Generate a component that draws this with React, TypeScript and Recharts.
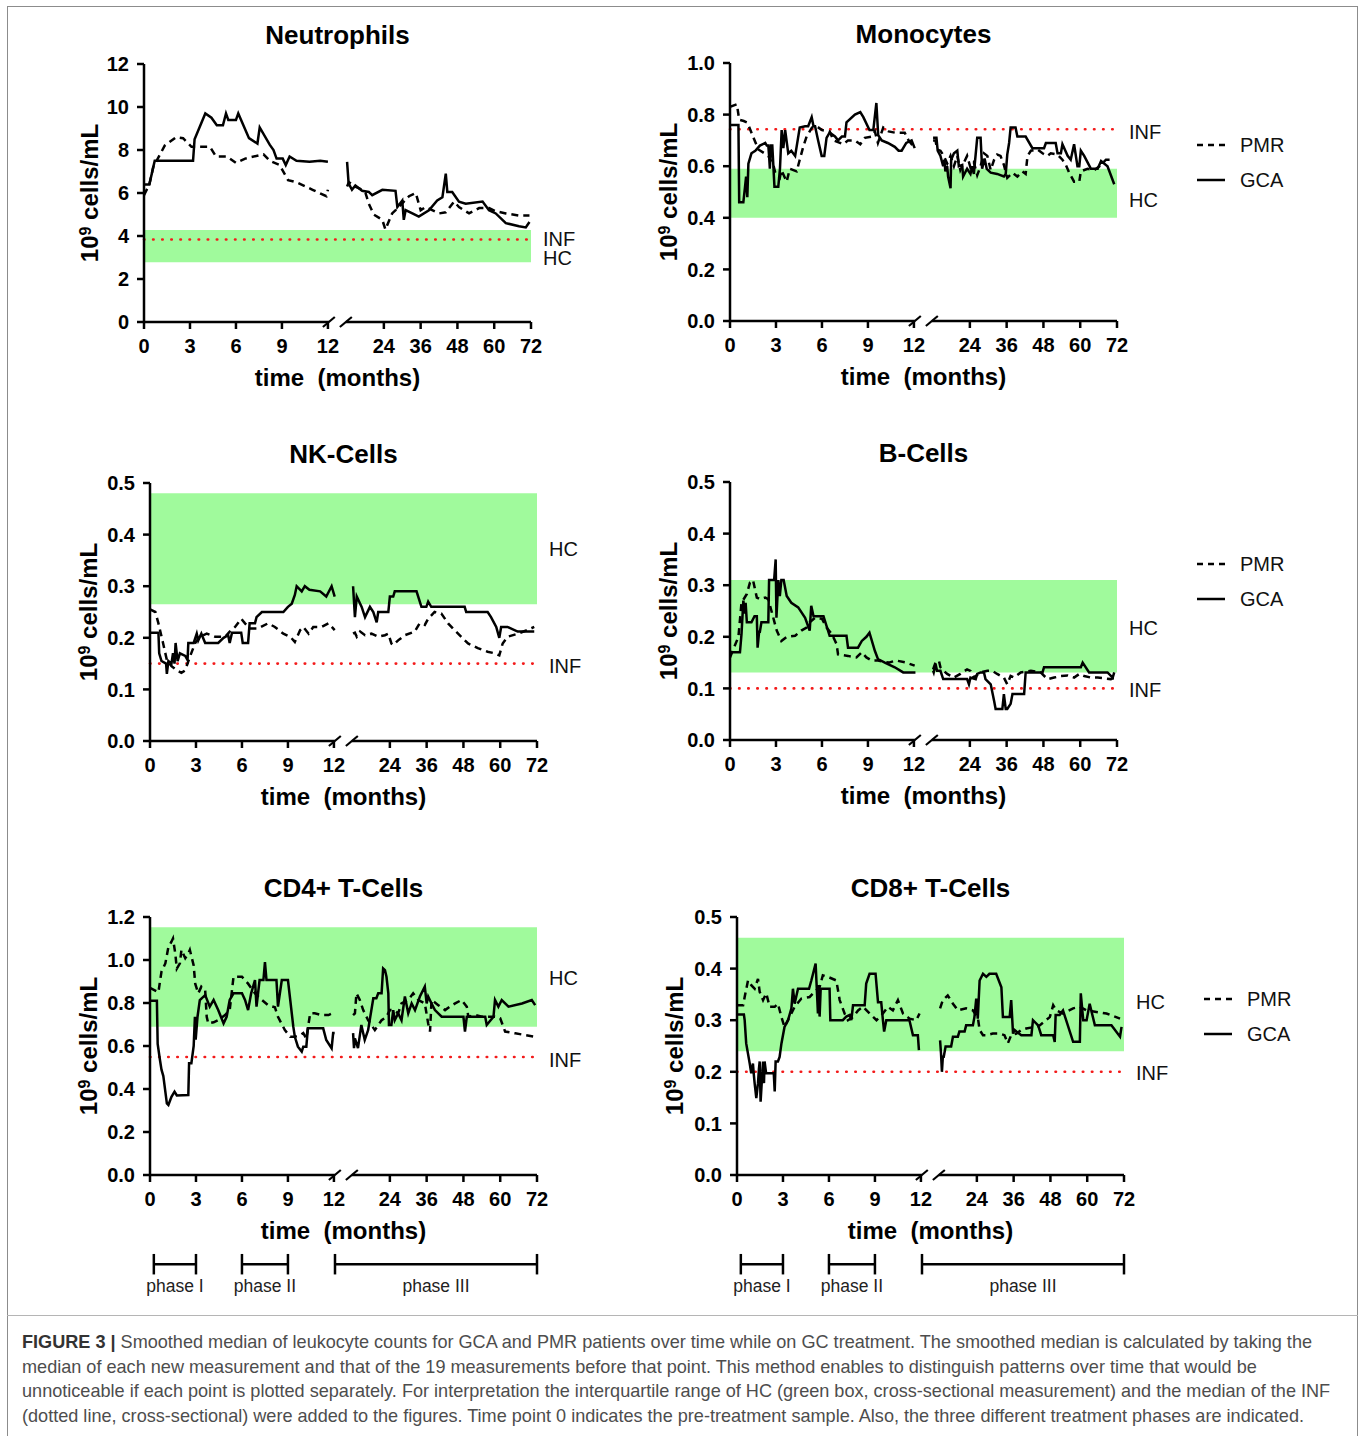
import React from 'react';
import { LineChart, Line, XAxis, YAxis, ReferenceArea, ReferenceLine } from 'recharts';

type Pt = [number, number];

// x axis is broken: 0-12 months linear, then 12-72 months compressed
const LATE0 = 13.25;
const LATE_PER_MONTH = 0.2;
const xPos = (t: number, late: boolean) => (late ? LATE0 + (t - 12) * LATE_PER_MONTH : t);
const X_MAX = xPos(72, true);
const xTickMonths = [0, 3, 6, 9, 12, 24, 36, 48, 60, 72];
const xTicks = xTickMonths.map((m, i) => xPos(m, i >= 5));
const xTickLabel = (u: number) => String(xTickMonths[xTicks.findIndex(t => Math.abs(t - u) < 1e-6)]);

// ---- Neutrophils
const neutroGcaEarly: Pt[] = [[0,6.4],[0.35,6.4],[0.7,7.5],[3.2,7.5],[3.3,8.5],[4.0,9.7],[4.4,9.5],[4.75,9.15],[5.15,9.15],[5.35,9.7],[5.5,9.4],[6.0,9.4],[6.15,9.7],[6.85,8.55],[7.4,8.3],[7.55,9.05],[8.2,8.25],[8.45,8.0],[8.65,7.6],[9.05,7.6],[9.25,7.3],[9.5,7.7],[9.95,7.5],[10.8,7.45],[11.5,7.5],[12.0,7.45]];
const neutroGcaLate: Pt[] = [[12,7.45],[12.5,6.45],[13.6,6.15],[14.7,6.35],[16.9,6.1],[19.1,6.05],[20.2,5.9],[23.5,6.15],[27.8,6.1],[28.4,5.35],[30.0,5.65],[30.5,4.75],[31.1,5.2],[33.3,5.05],[35.4,4.9],[38.7,5.2],[41.4,5.65],[43.1,5.8],[44.2,6.9],[44.7,6.05],[46.3,6.05],[48.5,5.6],[50.7,5.5],[56.2,5.6],[58.3,5.2],[60.5,5.05],[63.8,4.6],[68.1,4.45],[70.3,4.4],[71.5,4.65]];
const neutroPmrEarly: Pt[] = [[0,5.9],[0.35,6.4],[0.6,7.2],[1.35,8.2],[2.1,8.6],[2.55,8.55],[3.1,8.15],[4.3,8.15],[4.7,7.7],[5.4,7.7],[6.0,7.4],[6.6,7.6],[7.8,7.8],[8.2,7.5],[8.85,7.3],[9.4,6.6],[9.95,6.5],[11.0,6.15],[11.9,5.85],[12.0,6.15]];
const neutroPmrLate: Pt[] = [[12,6.3],[12.6,6.5],[14.7,6.3],[16.9,6.15],[18,6.0],[19.1,5.5],[20.7,5.0],[23.5,4.75],[24.5,4.3],[26.7,5.05],[28.9,5.35],[32.2,5.85],[34.4,6.0],[36,5.2],[37.6,5.35],[42,5.05],[44.2,5.1],[46.9,5.6],[48.5,5.35],[51.8,5.05],[55.1,5.3],[58.3,5.3],[60.5,5.15],[63.8,5.05],[68.1,4.95],[71.5,4.95]];

// ---- Monocytes
const monoGcaEarly: Pt[] = [[0,0.76],[0.55,0.76],[0.6,0.46],[0.87,0.46],[0.98,0.52],[1.05,0.56],[1.13,0.48],[1.2,0.61],[1.4,0.65],[1.65,0.66],[1.95,0.68],[2.3,0.69],[2.4,0.68],[2.5,0.68],[2.55,0.64],[2.6,0.59],[2.67,0.68],[2.76,0.68],[2.9,0.52],[3.15,0.52],[3.26,0.59],[3.37,0.74],[3.48,0.67],[3.6,0.74],[3.8,0.65],[4.0,0.66],[4.25,0.64],[4.55,0.75],[4.9,0.755],[5.1,0.755],[5.33,0.79],[5.45,0.755],[5.55,0.755],[5.75,0.70],[5.98,0.64],[6.15,0.64],[6.3,0.71],[6.5,0.73],[6.85,0.715],[7.05,0.70],[7.3,0.715],[7.5,0.715],[7.6,0.77],[8.15,0.80],[8.5,0.81],[8.7,0.79],[9.1,0.74],[9.35,0.74],[9.55,0.845],[9.67,0.72],[9.9,0.70],[10.3,0.69],[10.75,0.675],[11.0,0.66],[11.2,0.66],[11.5,0.69],[11.85,0.70],[12.05,0.67]];
const monoGcaLate: Pt[] = [[12,0.71],[13.1,0.71],[13.5,0.66],[14.4,0.64],[15.3,0.60],[15.7,0.625],[16.0,0.58],[16.6,0.60],[16.9,0.56],[17.7,0.515],[17.9,0.625],[18.8,0.65],[19.9,0.66],[20.4,0.60],[21.5,0.605],[21.8,0.56],[23.1,0.59],[24.2,0.57],[24.8,0.60],[25.3,0.57],[26.4,0.71],[27.5,0.71],[28.0,0.59],[28.8,0.63],[29.5,0.59],[30.8,0.575],[32.9,0.57],[35.1,0.56],[35.7,0.57],[36.2,0.645],[36.8,0.69],[37.3,0.75],[38.9,0.75],[39.5,0.715],[42.2,0.715],[44.4,0.67],[48.2,0.67],[48.8,0.69],[52.0,0.69],[52.6,0.65],[53.7,0.65],[54.2,0.685],[55.9,0.64],[56.9,0.625],[58.0,0.685],[59.1,0.60],[59.7,0.60],[60.2,0.66],[61.3,0.64],[62.4,0.615],[63.5,0.59],[65.7,0.59],[66.8,0.62],[68.9,0.60],[71.1,0.53]];
const monoPmrEarly: Pt[] = [[0,0.83],[0.45,0.84],[0.6,0.78],[0.9,0.775],[1.1,0.77],[1.2,0.76],[1.5,0.715],[1.85,0.665],[2.5,0.64],[2.85,0.60],[2.95,0.575],[3.25,0.555],[3.35,0.585],[3.7,0.54],[3.9,0.59],[4.35,0.58],[4.55,0.625],[4.8,0.68],[5.0,0.715],[5.35,0.75],[5.65,0.755],[6.0,0.74],[6.5,0.735],[6.75,0.70],[7.4,0.685],[7.7,0.70],[8.15,0.70],[8.5,0.685],[8.8,0.71],[9.25,0.715],[9.45,0.735],[9.65,0.69],[10.0,0.75],[10.35,0.735],[10.75,0.73],[11.4,0.73],[11.65,0.70],[11.85,0.685],[12.05,0.69]];
const monoPmrLate: Pt[] = [[12,0.70],[12.8,0.70],[13.3,0.665],[14.4,0.66],[15.5,0.64],[16.6,0.61],[17.7,0.64],[18.8,0.60],[19.9,0.64],[20.9,0.585],[23.1,0.64],[24.2,0.595],[25.3,0.615],[26.4,0.565],[27.5,0.60],[28.6,0.65],[29.7,0.64],[30.8,0.585],[31.9,0.625],[32.9,0.645],[34.0,0.64],[35.1,0.605],[36.2,0.555],[37.9,0.575],[39.5,0.56],[41.1,0.58],[42.2,0.57],[42.8,0.64],[43.9,0.66],[46.0,0.665],[47.7,0.65],[49.3,0.64],[50.4,0.65],[52.6,0.645],[54.2,0.625],[55.3,0.605],[56.4,0.575],[58.0,0.54],[59.7,0.54],[60.2,0.58],[62.4,0.59],[64.6,0.585],[66.8,0.605],[68.4,0.625],[71.1,0.625]];

// ---- NK cells
const nkGcaEarly: Pt[] = [[0,0.21],[0.55,0.21],[0.6,0.17],[0.75,0.155],[1.05,0.15],[1.1,0.13],[1.2,0.155],[1.4,0.15],[1.5,0.17],[1.6,0.15],[1.67,0.19],[1.8,0.155],[1.95,0.17],[2.3,0.165],[2.45,0.157],[2.5,0.19],[2.85,0.19],[3.05,0.208],[3.15,0.195],[3.35,0.208],[3.6,0.19],[4.45,0.19],[4.8,0.20],[5.1,0.205],[5.2,0.19],[5.35,0.21],[5.95,0.21],[6.05,0.19],[6.4,0.19],[6.5,0.228],[6.85,0.228],[6.95,0.24],[7.3,0.25],[8.7,0.25],[9.0,0.26],[9.25,0.266],[9.45,0.283],[9.57,0.30],[9.9,0.29],[10.1,0.30],[10.4,0.293],[11.1,0.29],[11.5,0.28],[11.85,0.30],[12.05,0.28]];
const nkGcaLate: Pt[] = [[12,0.30],[12.2,0.28],[12.6,0.24],[13.2,0.28],[14.8,0.26],[15.9,0.24],[17.5,0.26],[18.6,0.25],[19.7,0.23],[20.2,0.25],[23.5,0.25],[24,0.28],[25.1,0.28],[25.6,0.29],[26.7,0.29],[32.7,0.29],[34.3,0.26],[35.9,0.26],[36.5,0.27],[37.5,0.26],[48.4,0.26],[48.9,0.25],[55.9,0.25],[57.0,0.24],[58.7,0.221],[59.7,0.20],[60.3,0.221],[62.4,0.221],[65.7,0.212],[71.1,0.212]];
const nkPmrEarly: Pt[] = [[0,0.255],[0.35,0.25],[0.55,0.228],[0.85,0.19],[1.1,0.157],[1.4,0.145],[1.75,0.137],[2.05,0.132],[2.3,0.137],[2.6,0.163],[2.95,0.19],[3.25,0.202],[3.7,0.208],[4.25,0.202],[4.9,0.202],[5.2,0.212],[5.55,0.221],[5.95,0.237],[6.2,0.228],[6.5,0.218],[7.05,0.218],[7.7,0.228],[8.15,0.221],[8.7,0.208],[9.15,0.202],[9.45,0.192],[9.8,0.215],[10.0,0.221],[10.35,0.208],[10.65,0.221],[11.2,0.221],[11.65,0.228],[12.05,0.215]];
const nkPmrLate: Pt[] = [[12,0.208],[12.6,0.21],[13.2,0.202],[14.3,0.212],[15.9,0.205],[18.0,0.208],[20.2,0.202],[22.4,0.205],[23.5,0.208],[24.5,0.189],[25.1,0.186],[26.7,0.195],[28.9,0.205],[32.1,0.212],[33.7,0.228],[35.4,0.225],[36.5,0.237],[38.6,0.25],[40.8,0.247],[43.0,0.228],[45.1,0.215],[47.3,0.202],[49.5,0.189],[52.7,0.18],[55.9,0.173],[58.1,0.17],[59.7,0.166],[60.8,0.189],[62.4,0.202],[65.7,0.208],[68.9,0.215],[71.1,0.221]];

// ---- B cells
const bGcaEarly: Pt[] = [[0,0.17],[0.65,0.17],[0.75,0.205],[0.87,0.27],[0.98,0.245],[1.02,0.266],[1.1,0.228],[1.4,0.228],[1.6,0.24],[1.75,0.24],[1.8,0.179],[1.9,0.21],[1.95,0.21],[2.05,0.228],[2.5,0.228],[2.55,0.31],[2.88,0.31],[2.98,0.35],[3.03,0.237],[3.15,0.31],[3.25,0.279],[3.35,0.31],[3.5,0.31],[3.7,0.279],[4.0,0.266],[4.45,0.257],[4.9,0.237],[5.2,0.212],[5.3,0.26],[5.45,0.24],[6.1,0.24],[6.5,0.202],[7.6,0.202],[7.7,0.179],[8.35,0.179],[8.6,0.192],[8.9,0.20],[9.1,0.208],[9.45,0.173],[9.65,0.157],[10.1,0.15],[10.75,0.141],[11.3,0.131],[12.1,0.131]];
const bGcaLate: Pt[] = [[12,0.134],[12.2,0.131],[12.8,0.147],[13.3,0.134],[14.4,0.134],[15.3,0.118],[16.6,0.118],[18.8,0.118],[23.1,0.118],[23.7,0.108],[24.2,0.121],[25.9,0.118],[26.4,0.128],[27.5,0.131],[28.6,0.131],[29.1,0.118],[30.8,0.108],[31.9,0.076],[32.4,0.06],[34.6,0.06],[35.1,0.089],[35.7,0.06],[36.2,0.06],[37.3,0.07],[37.9,0.089],[41.7,0.089],[42.2,0.131],[47.7,0.131],[48.2,0.141],[60.2,0.141],[60.8,0.15],[62.9,0.131],[68.9,0.131],[70.6,0.121],[71.1,0.131]];
const bPmrEarly: Pt[] = [[0,0.16],[0.55,0.20],[0.75,0.266],[1.1,0.283],[1.3,0.305],[1.5,0.31],[1.75,0.276],[1.95,0.273],[2.3,0.276],[2.5,0.273],[2.85,0.234],[3.05,0.212],[3.35,0.192],[3.7,0.20],[4.25,0.202],[4.65,0.212],[5.0,0.218],[5.2,0.228],[5.55,0.237],[6.0,0.235],[6.3,0.218],[6.65,0.205],[6.95,0.186],[7.05,0.166],[7.7,0.163],[8.25,0.16],[8.6,0.17],[8.9,0.16],[9.25,0.154],[9.65,0.154],[10.35,0.15],[10.85,0.154],[11.5,0.15],[12.05,0.144]];
const bPmrLate: Pt[] = [[12,0.137],[12.8,0.15],[13.9,0.154],[14.4,0.141],[15.5,0.134],[16.6,0.128],[18.8,0.121],[20.9,0.128],[23.1,0.137],[24.2,0.134],[25.3,0.121],[27.5,0.131],[29.7,0.134],[31.3,0.134],[32.9,0.128],[35.1,0.121],[36.2,0.108],[37.3,0.124],[38.4,0.121],[40.6,0.131],[43.9,0.134],[47.1,0.131],[49.3,0.118],[51.5,0.121],[53.7,0.124],[55.9,0.125],[58.0,0.121],[59.7,0.128],[61.3,0.124],[63.5,0.121],[65.7,0.121],[70.0,0.118],[71.1,0.121]];

// ---- CD4+ T cells
const cd4GcaEarly: Pt[] = [[0,0.81],[0.45,0.81],[0.5,0.61],[0.65,0.535],[0.75,0.49],[0.87,0.46],[1.1,0.333],[1.2,0.326],[1.4,0.364],[1.6,0.388],[1.75,0.37],[2.5,0.372],[2.55,0.52],[2.7,0.52],[2.85,0.60],[2.93,0.736],[2.98,0.63],[3.1,0.736],[3.25,0.814],[3.6,0.837],[3.9,0.783],[4.15,0.814],[4.45,0.767],[4.8,0.705],[5.0,0.736],[5.2,0.814],[5.45,0.845],[6.0,0.845],[6.2,0.814],[6.4,0.767],[6.6,0.845],[6.85,0.907],[6.95,0.783],[7.15,0.907],[7.4,0.907],[7.5,0.99],[7.6,0.907],[8.25,0.907],[8.35,0.783],[8.6,0.907],[9.0,0.907],[9.15,0.814],[9.35,0.69],[9.45,0.643],[9.65,0.597],[9.9,0.574],[10.0,0.597],[10.2,0.597],[10.3,0.682],[11.3,0.682],[11.5,0.628],[11.85,0.589],[11.95,0.66],[12.05,0.66]];
const cd4GcaLate: Pt[] = [[12,0.66],[12.3,0.59],[12.6,0.636],[13.6,0.59],[14.7,0.698],[15.8,0.628],[16.9,0.674],[18.6,0.822],[19.6,0.822],[20.2,0.845],[21.3,0.845],[21.8,0.961],[22.4,0.953],[22.9,0.922],[23.5,0.845],[23.7,0.698],[24.5,0.698],[25.1,0.767],[25.6,0.72],[26.7,0.752],[27.8,0.72],[28.9,0.83],[30.0,0.752],[31.1,0.798],[32.2,0.767],[33.8,0.83],[35.4,0.876],[36.0,0.798],[36.5,0.83],[37.6,0.798],[38.7,0.767],[40.9,0.736],[45.3,0.736],[48.0,0.736],[48.5,0.667],[49.1,0.736],[55.1,0.736],[55.6,0.698],[57.8,0.736],[58.3,0.814],[59.4,0.783],[60.5,0.814],[62.7,0.783],[67.1,0.798],[70.3,0.814],[71.4,0.79]];
const cd4PmrEarly: Pt[] = [[0,0.87],[0.55,0.85],[0.65,0.90],[0.75,0.946],[1.0,0.984],[1.2,1.06],[1.4,1.085],[1.5,1.10],[1.65,1.03],[1.75,0.96],[1.95,0.984],[2.05,1.047],[2.3,1.008],[2.5,1.03],[2.6,1.047],[2.85,0.975],[2.95,0.89],[3.15,0.845],[3.35,0.876],[3.6,0.86],[3.7,0.736],[3.8,0.705],[4.15,0.71],[4.45,0.721],[4.9,0.744],[5.2,0.767],[5.45,0.922],[6.0,0.922],[6.4,0.89],[6.85,0.845],[7.3,0.814],[7.7,0.79],[8.15,0.78],[8.35,0.736],[8.8,0.674],[9.15,0.643],[9.45,0.643],[9.8,0.651],[10.0,0.66],[10.2,0.635],[10.45,0.752],[10.75,0.752],[11.2,0.744],[11.65,0.744],[11.9,0.752]];
const cd4PmrLate: Pt[] = [[12,0.744],[12.6,0.752],[13.1,0.845],[14.2,0.814],[15.3,0.767],[16.9,0.72],[19.1,0.674],[21.3,0.72],[22.9,0.736],[24.0,0.767],[25.1,0.767],[26.7,0.752],[27.8,0.798],[30.0,0.814],[31.6,0.845],[33.3,0.814],[35.4,0.798],[36.5,0.705],[37.1,0.667],[37.6,0.814],[39.8,0.79],[42.0,0.767],[43.6,0.783],[45.3,0.798],[47.4,0.814],[49.1,0.783],[49.6,0.736],[51.8,0.744],[54.0,0.736],[56.2,0.736],[58.3,0.736],[60.0,0.729],[61.6,0.667],[64.9,0.659],[68.1,0.651],[71.4,0.643]];

// ---- CD8+ T cells
const cd8GcaEarly: Pt[] = [[0,0.311],[0.45,0.311],[0.5,0.30],[0.6,0.255],[0.83,0.216],[0.93,0.197],[1.04,0.216],[1.09,0.197],[1.15,0.178],[1.26,0.149],[1.37,0.178],[1.43,0.205],[1.48,0.22],[1.54,0.142],[1.65,0.197],[1.7,0.22],[1.76,0.178],[1.8,0.22],[1.9,0.197],[2.4,0.197],[2.46,0.162],[2.52,0.22],[2.67,0.22],[2.78,0.229],[2.9,0.255],[3.1,0.287],[3.33,0.30],[3.55,0.323],[3.65,0.361],[3.76,0.332],[3.98,0.361],[4.7,0.361],[4.85,0.377],[5.13,0.41],[5.22,0.352],[5.28,0.313],[5.33,0.368],[5.39,0.307],[5.46,0.361],[6.04,0.361],[6.09,0.30],[6.9,0.30],[7.13,0.307],[7.35,0.31],[7.46,0.30],[7.57,0.329],[8.33,0.329],[8.43,0.371],[8.65,0.39],[9.04,0.39],[9.2,0.335],[9.41,0.335],[9.52,0.30],[9.6,0.278],[9.74,0.30],[11.25,0.30],[11.48,0.271],[11.8,0.271],[11.87,0.242]];
const cd8GcaLate: Pt[] = [[12,0.261],[12.3,0.236],[12.6,0.20],[12.9,0.229],[13.2,0.229],[13.8,0.249],[15.6,0.249],[16.2,0.268],[17.8,0.268],[18.3,0.278],[20.0,0.278],[20.5,0.29],[22.7,0.29],[23.2,0.306],[23.8,0.342],[24.3,0.303],[24.9,0.377],[26.0,0.39],[27.1,0.384],[28.1,0.39],[30.3,0.39],[32.0,0.364],[32.5,0.306],[34.7,0.306],[35.2,0.339],[35.8,0.274],[36.3,0.281],[36.9,0.278],[38.5,0.271],[41.8,0.271],[42.3,0.30],[44.0,0.29],[45.0,0.271],[48.9,0.271],[49.4,0.258],[49.7,0.31],[51.0,0.31],[52.1,0.319],[55.4,0.258],[57.6,0.258],[57.9,0.352],[58.7,0.30],[59.8,0.30],[60.8,0.332],[62.5,0.29],[67.9,0.29],[70.7,0.268],[71.2,0.287]];
const cd8PmrEarly: Pt[] = [[0,0.329],[0.4,0.329],[0.5,0.345],[0.72,0.377],[0.93,0.368],[1.15,0.361],[1.37,0.38],[1.48,0.355],[1.7,0.339],[1.91,0.352],[2.13,0.326],[2.46,0.326],[2.67,0.332],[2.9,0.306],[3.1,0.287],[3.43,0.306],[3.76,0.326],[4.2,0.342],[4.74,0.345],[5.07,0.355],[5.39,0.364],[5.6,0.387],[5.93,0.384],[6.48,0.377],[6.7,0.339],[7.02,0.313],[7.24,0.30],[7.57,0.306],[7.9,0.319],[8.22,0.326],[8.65,0.313],[9.1,0.30],[9.3,0.306],[9.52,0.313],[9.85,0.326],[10.17,0.319],[10.5,0.339],[10.83,0.313],[11.26,0.303],[11.7,0.30],[11.91,0.313]];
const cd8PmrLate: Pt[] = [[12,0.323],[12.9,0.339],[14.5,0.348],[16.2,0.332],[17.8,0.319],[20.5,0.323],[22.7,0.319],[24.3,0.306],[24.9,0.281],[26.0,0.271],[27.1,0.271],[29.2,0.274],[31.4,0.274],[33.0,0.271],[34.1,0.255],[35.2,0.271],[36.9,0.274],[38.5,0.281],[40.1,0.284],[42.9,0.287],[44.5,0.29],[47.8,0.306],[48.9,0.329],[49.9,0.319],[52.1,0.313],[55.4,0.323],[57.6,0.326],[59.8,0.319],[63.0,0.316],[66.3,0.313],[70.7,0.303]];

// treatment phases in months (start on the early scale, end possibly on the late scale)
const phaseNames = ['phase I', 'phase II', 'phase III'];
const phaseStart = [0.25, 6, 12.07];
const phaseEnd = [3, 9, 72];

const PW = 387;
const PH = 258;
const YW = 60;
const MT = 12;
const XH = 46;
const MR = 70;
const INK = '#000';
const BAR_Y = 0.7;

const toRows = (pts: Pt[], late: boolean) => pts.map(([t, v]) => ({ u: xPos(t, late), v }));
const phaseRows = phaseNames.map((_, i) => [
  { u: xPos(phaseStart[i], false), v: BAR_Y },
  { u: xPos(phaseEnd[i], phaseEnd[i] > 12), v: BAR_Y },
]);

interface PanelProps {
  title: string;
  left: number;
  top: number;
  yMax: number;
  yStep: number;
  decimals: number;
  hc: [number, number];
  inf: number;
  hcDy: number;
  infDy: number;
  yLabelDx: number;
  gca: [Pt[], Pt[]];
  pmr: [Pt[], Pt[]];
  legend?: boolean;
  phases?: boolean;
}

const Panel: React.FC<PanelProps> = (p) => {
  const yTicks: number[] = [];
  for (let i = 0; i <= Math.round(p.yMax / p.yStep); i++) yTicks.push(+(i * p.yStep).toFixed(3));
  const slashH = (5 / PH) * p.yMax;
  const slashW = 0.39;
  const brk1 = 12.06;
  const brk2 = 13.17;
  const lineProps = { dataKey: 'v', stroke: INK, strokeWidth: 2.5, dot: false, isAnimationActive: false, type: 'linear' as const, activeDot: false as const };

  return (
    <>
      <div style={{ position: 'absolute', left: p.left, top: p.top - 29 - 16, width: PW, height: 32, lineHeight: '32px', textAlign: 'center', fontSize: 26, fontWeight: 700 }}>
        {p.title}
      </div>
      <div style={{ position: 'absolute', left: p.left + p.yLabelDx, top: p.top + PH / 2, transform: 'translate(-50%, -50%) rotate(-90deg)', whiteSpace: 'nowrap', fontSize: 24, fontWeight: 700, lineHeight: '28px' }}>
        10<sup style={{ fontSize: 16, verticalAlign: 'top', position: 'relative', top: -4 }}>9</sup> cells/mL
      </div>
      <div style={{ position: 'absolute', left: p.left - YW, top: p.top - MT }}>
        <LineChart width={YW + PW + MR} height={MT + PH + XH} margin={{ top: MT, right: MR, left: 0, bottom: 0 }}>
          <XAxis
            type="number"
            dataKey="u"
            domain={[0, X_MAX]}
            ticks={xTicks}
            interval={0}
            tickFormatter={xTickLabel}
            axisLine={false}
            tickLine={{ stroke: INK, strokeWidth: 2.5 }}
            tickSize={7}
            tickMargin={10}
            tick={{ fill: INK, fontSize: 20, fontWeight: 700 }}
            height={XH}
            allowDataOverflow
          />
          <YAxis
            type="number"
            domain={[0, p.yMax]}
            ticks={yTicks}
            interval={0}
            tickFormatter={(v: number) => v.toFixed(p.decimals)}
            axisLine={{ stroke: INK, strokeWidth: 2.5 }}
            tickLine={{ stroke: INK, strokeWidth: 2.5 }}
            tickSize={7}
            tickMargin={8}
            tick={{ fill: INK, fontSize: 20, fontWeight: 700 }}
            width={YW}
            allowDataOverflow
          />
          <ReferenceArea
            x1={0}
            x2={X_MAX}
            y1={p.hc[0]}
            y2={p.hc[1]}
            fill="#a0fa9c"
            fillOpacity={1}
            stroke="none"
            label={{ value: 'HC', position: 'right', offset: 12, fill: '#111', fontSize: 20, dy: p.hcDy }}
          />
          <ReferenceLine
            y={p.inf}
            stroke="#f31a1a"
            strokeWidth={2.6}
            strokeDasharray="0.5 8.6"
            strokeLinecap="round"
            label={{ value: 'INF', position: 'right', offset: 12, fill: '#111', fontSize: 20, dy: p.infDy }}
          />
          <ReferenceLine segment={[{ x: 0, y: 0 }, { x: brk1, y: 0 }]} stroke={INK} strokeWidth={2.5} ifOverflow="visible" />
          <ReferenceLine segment={[{ x: brk2, y: 0 }, { x: X_MAX, y: 0 }]} stroke={INK} strokeWidth={2.5} ifOverflow="visible" />
          <ReferenceLine segment={[{ x: brk1 - slashW, y: -slashH }, { x: brk1 + slashW, y: slashH }]} stroke={INK} strokeWidth={2.2} ifOverflow="visible" />
          <ReferenceLine segment={[{ x: brk2 - slashW, y: -slashH }, { x: brk2 + slashW, y: slashH }]} stroke={INK} strokeWidth={2.2} ifOverflow="visible" />
          <Line data={toRows(p.pmr[0], false)} {...lineProps} strokeDasharray="7 5" />
          <Line data={toRows(p.pmr[1], true)} {...lineProps} strokeDasharray="7 5" />
          <Line data={toRows(p.gca[0], false)} {...lineProps} />
          <Line data={toRows(p.gca[1], true)} {...lineProps} />
        </LineChart>
      </div>
      <div style={{ position: 'absolute', left: p.left, top: p.top + PH + 56 - 16, width: PW, height: 32, lineHeight: '32px', textAlign: 'center', fontSize: 24, fontWeight: 700, whiteSpace: 'pre' }}>
        {'time  (months)'}
      </div>
      {p.legend && (
        <svg style={{ position: 'absolute', left: p.left + PW + 80, top: p.top + 70 }} width={120} height={60}>
          <line x1={0} y1={12} x2={28} y2={12} stroke={INK} strokeWidth={2.5} strokeDasharray="6 5" />
          <text x={43} y={12} dominantBaseline="central" fontSize={20} fill="#111">PMR</text>
          <line x1={0} y1={47} x2={28} y2={47} stroke={INK} strokeWidth={2.5} />
          <text x={43} y={47} dominantBaseline="central" fontSize={20} fill="#111">GCA</text>
        </svg>
      )}
      {p.phases && (
        <div style={{ position: 'absolute', left: p.left - YW, top: p.top + PH + 70 }}>
          <LineChart width={YW + PW + MR} height={64} margin={{ top: 0, right: MR, left: YW, bottom: 0 }}>
            <XAxis type="number" dataKey="u" domain={[0, X_MAX]} hide allowDataOverflow />
            <YAxis type="number" domain={[0, 1]} hide allowDataOverflow />
            {phaseRows.map((rows, i) => (
              <Line key={phaseNames[i]} data={rows} dataKey="v" stroke={INK} strokeWidth={2.5} dot={false} activeDot={false} isAnimationActive={false} />
            ))}
            {phaseRows.map((rows, i) => (
              <ReferenceLine key={'a' + i} segment={[{ x: rows[0].u, y: BAR_Y - 0.16 }, { x: rows[0].u, y: BAR_Y + 0.16 }]} stroke={INK} strokeWidth={2.5} ifOverflow="visible" />
            ))}
            {phaseRows.map((rows, i) => (
              <ReferenceLine key={'b' + i} segment={[{ x: rows[1].u, y: BAR_Y - 0.16 }, { x: rows[1].u, y: BAR_Y + 0.16 }]} stroke={INK} strokeWidth={2.5} ifOverflow="visible" />
            ))}
            {phaseRows.map((rows, i) => (
              <ReferenceLine key={'t' + i} segment={[{ x: rows[0].u, y: BAR_Y }, { x: rows[1].u, y: BAR_Y }]} stroke="none" ifOverflow="visible"
                label={{ value: phaseNames[i], position: 'bottom', offset: 15, fill: '#222', fontSize: 17.5 }} />
            ))}
          </LineChart>
        </div>
      )}
    </>
  );
};

const captionLines = [
  'Smoothed median of leukocyte counts for GCA and PMR patients over time while on GC treatment. The smoothed median is calculated by taking the',
  'median of each new measurement and that of the 19 measurements before that point. This method enables to distinguish patterns over time that would be',
  'unnoticeable if each point is plotted separately. For interpretation the interquartile range of HC (green box, cross-sectional measurement) and the median of the INF',
  '(dotted line, cross-sectional) were added to the figures. Time point 0 indicates the pre-treatment sample. Also, the three different treatment phases are indicated.',
];

export default function App() {
  return (
    <div style={{ position: 'absolute', left: 0, top: 0, width: 1360, height: 1436, background: '#fff', overflow: 'hidden', fontFamily: "'Liberation Sans', Arial, sans-serif", color: INK }}>
      <div style={{ position: 'absolute', left: 7, top: 6, width: 1351, height: 1460, border: '1px solid #8c8c8c', boxSizing: 'border-box' }} />
      <div style={{ position: 'absolute', left: 7, top: 1315, width: 1351, height: 1, background: '#b5b5b5' }} />

      <Panel title="Neutrophils" left={144} top={64} yMax={12} yStep={2} decimals={0} hc={[2.78, 4.28]} inf={3.84} hcDy={12} infDy={-1} yLabelDx={-54}
        gca={[neutroGcaEarly, neutroGcaLate]} pmr={[neutroPmrEarly, neutroPmrLate]} />
      <Panel title="Monocytes" left={730} top={63} yMax={1.0} yStep={0.2} decimals={1} hc={[0.40, 0.59]} inf={0.743} hcDy={7} infDy={3} yLabelDx={-61}
        gca={[monoGcaEarly, monoGcaLate]} pmr={[monoPmrEarly, monoPmrLate]} legend />
      <Panel title="NK-Cells" left={150} top={483} yMax={0.5} yStep={0.1} decimals={1} hc={[0.265, 0.48]} inf={0.15} hcDy={0} infDy={2} yLabelDx={-61}
        gca={[nkGcaEarly, nkGcaLate]} pmr={[nkPmrEarly, nkPmrLate]} />
      <Panel title="B-Cells" left={730} top={482} yMax={0.5} yStep={0.1} decimals={1} hc={[0.131, 0.31]} inf={0.10} hcDy={2} infDy={1} yLabelDx={-61}
        gca={[bGcaEarly, bGcaLate]} pmr={[bPmrEarly, bPmrLate]} legend />
      <Panel title="CD4+ T-Cells" left={150} top={917} yMax={1.2} yStep={0.2} decimals={1} hc={[0.69, 1.152]} inf={0.549} hcDy={1} infDy={3} yLabelDx={-61}
        gca={[cd4GcaEarly, cd4GcaLate]} pmr={[cd4PmrEarly, cd4PmrLate]} phases />
      <Panel title="CD8+ T-Cells" left={737} top={917} yMax={0.5} yStep={0.1} decimals={1} hc={[0.24, 0.46]} inf={0.2} hcDy={7} infDy={1} yLabelDx={-62}
        gca={[cd8GcaEarly, cd8GcaLate]} pmr={[cd8PmrEarly, cd8PmrLate]} legend phases />

      <div style={{ position: 'absolute', left: 22, top: 1330, fontSize: 18.1, lineHeight: '24.7px', color: '#4d4d4d', whiteSpace: 'nowrap' }}>
        {captionLines.map((line, i) => (
          <div key={i}>
            {i === 0 && <b style={{ color: '#333' }}>FIGURE 3 | </b>}
            {line}
          </div>
        ))}
      </div>
    </div>
  );
}
